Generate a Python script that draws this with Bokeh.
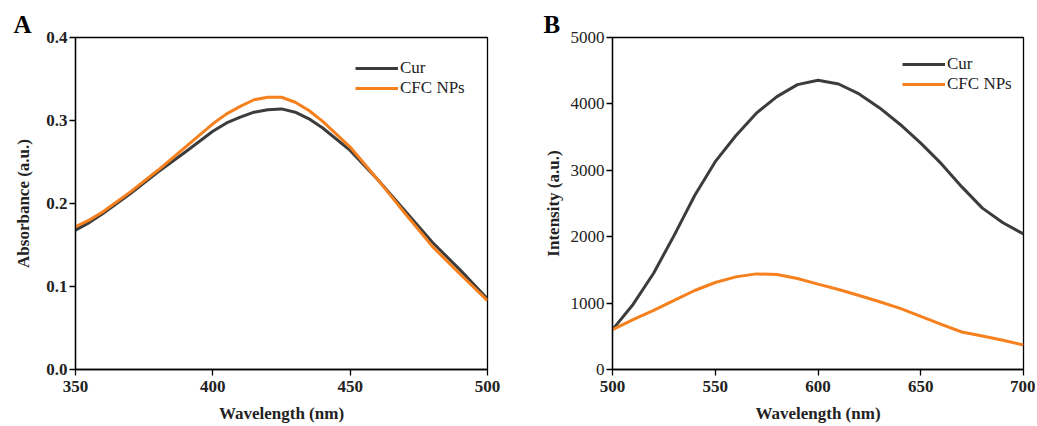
from bokeh.plotting import figure
from bokeh.layouts import row
from bokeh.models import FixedTicker, PrintfTickFormatter, Legend, LegendItem
from bokeh.embed import file_html
from bokeh.resources import INLINE

# ---- Panel A: UV-vis absorbance ----
wl_a = [350, 355, 360, 370, 380, 390, 400, 405, 410, 415, 420, 425, 430, 435, 440, 450, 460, 470, 480, 490, 500]
cur_a = [0.168, 0.177, 0.188, 0.212, 0.238, 0.262, 0.287, 0.297, 0.304, 0.310, 0.313, 0.314, 0.310, 0.302, 0.291, 0.264, 0.229, 0.191, 0.153, 0.120, 0.085]
cfc_a = [0.172, 0.180, 0.190, 0.214, 0.240, 0.268, 0.296, 0.308, 0.317, 0.325, 0.328, 0.328, 0.322, 0.312, 0.299, 0.268, 0.229, 0.188, 0.148, 0.115, 0.083]

# ---- Panel B: fluorescence ----
wl_b = [500, 510, 520, 530, 540, 550, 560, 570, 580, 590, 600, 610, 620, 630, 640, 650, 660, 670, 680, 690, 700]
cur_b = [600, 980, 1450, 2020, 2620, 3130, 3520, 3860, 4110, 4290, 4355, 4300, 4150, 3940, 3690, 3410, 3100, 2750, 2430, 2210, 2040]
cfc_b = [600, 750, 890, 1040, 1190, 1310, 1395, 1440, 1430, 1370, 1285, 1205, 1115, 1020, 920, 800, 680, 565, 505, 440, 370]

series_names = ["Cur", "CFC NPs"]
colors = ["#3c3c3c", "#f7801e"]

xticks_a = [350, 400, 450, 500]
yticks_a = [0.0, 0.1, 0.2, 0.3, 0.4]
xticks_b = [500, 550, 600, 650, 700]
yticks_b = [0, 1000, 2000, 3000, 4000, 5000]

FONT = "Liberation Serif"


def make_fig(width, border_left, border_right, xr, yr, xticks, yticks, xlabel, ylabel,
             xs, ys_list, letter, letter_off, legend_xy, ylabel_standoff, ytick_bold):
    p = figure(width=width, height=426, x_range=xr, y_range=yr,
               output_backend="svg", toolbar_location=None,
               min_border_left=border_left, min_border_right=border_right,
               min_border_top=37, min_border_bottom=57)
    p.grid.visible = False
    p.outline_line_color = "black"
    p.outline_line_width = 1.3
    p.background_fill_color = "white"
    p.border_fill_color = "white"

    items = []
    for name, ys, c in zip(series_names, ys_list, colors):
        r = p.line(xs, ys, line_color=c, line_width=3, line_join="round")
        items.append(LegendItem(label=name, renderers=[r]))

    for ax in (p.xaxis[0], p.yaxis[0]):
        ax.axis_line_color = "black"
        ax.axis_line_width = 1.3
        ax.major_tick_line_color = "black"
        ax.major_tick_line_width = 1.3
        ax.major_tick_out = 6
        ax.major_tick_in = 0
        ax.minor_tick_out = 0
        ax.minor_tick_in = 0
        ax.major_label_text_font = FONT
        ax.major_label_text_font_size = "17px"
        ax.major_label_text_color = "#222222"
        ax.axis_label_text_font = FONT
        ax.axis_label_text_font_size = "17px"
        ax.axis_label_text_font_style = "bold"
        ax.axis_label_text_color = "#222222"

    p.xaxis[0].ticker = FixedTicker(ticks=xticks)
    p.yaxis[0].ticker = FixedTicker(ticks=yticks)
    p.xaxis[0].axis_label = xlabel
    p.yaxis[0].axis_label = ylabel
    p.xaxis[0].major_label_text_font_style = "bold"
    p.yaxis[0].major_label_text_font_style = "bold" if ytick_bold else "normal"
    p.xaxis[0].major_label_standoff = 5
    p.yaxis[0].major_label_standoff = 2
    p.xaxis[0].axis_label_standoff = 9
    p.yaxis[0].axis_label_standoff = ylabel_standoff

    leg = Legend(items=items, location=legend_xy)
    leg.border_line_color = None
    leg.background_fill_alpha = 0
    leg.padding = 0
    leg.margin = 0
    leg.spacing = 0
    leg.glyph_width = 43
    leg.glyph_height = 20
    leg.label_height = 20
    leg.label_standoff = 2
    leg.label_text_font = FONT
    leg.label_text_font_size = "17px"
    leg.label_text_color = "#222222"
    p.add_layout(leg)

    p.title.text = letter
    p.title.align = "left"
    p.title.offset = letter_off
    p.title.standoff = 0
    p.title.text_font = FONT
    p.title.text_font_size = "25px"
    p.title.text_font_style = "bold"
    p.title.text_color = "black"
    return p


pA = make_fig(520, 75, 33, (350, 500), (0, 0.4), xticks_a, yticks_a,
              "Wavelength (nm)", "Absorbance (a.u.)",
              wl_a, [cur_a, cfc_a], "A", -62, (280, 271), 10, True)
pA.yaxis[0].formatter = PrintfTickFormatter(format="%.1f")

pB = make_fig(515, 92, 12, (500, 700), (0, 5000), xticks_b, yticks_b,
              "Wavelength (nm)", "Intensity (a.u.)",
              wl_b, [cur_b, cfc_b], "B", -69, (290, 275), 5, False)

layout = row(pA, pB)
open("out.html", "w").write(file_html(layout, INLINE))
